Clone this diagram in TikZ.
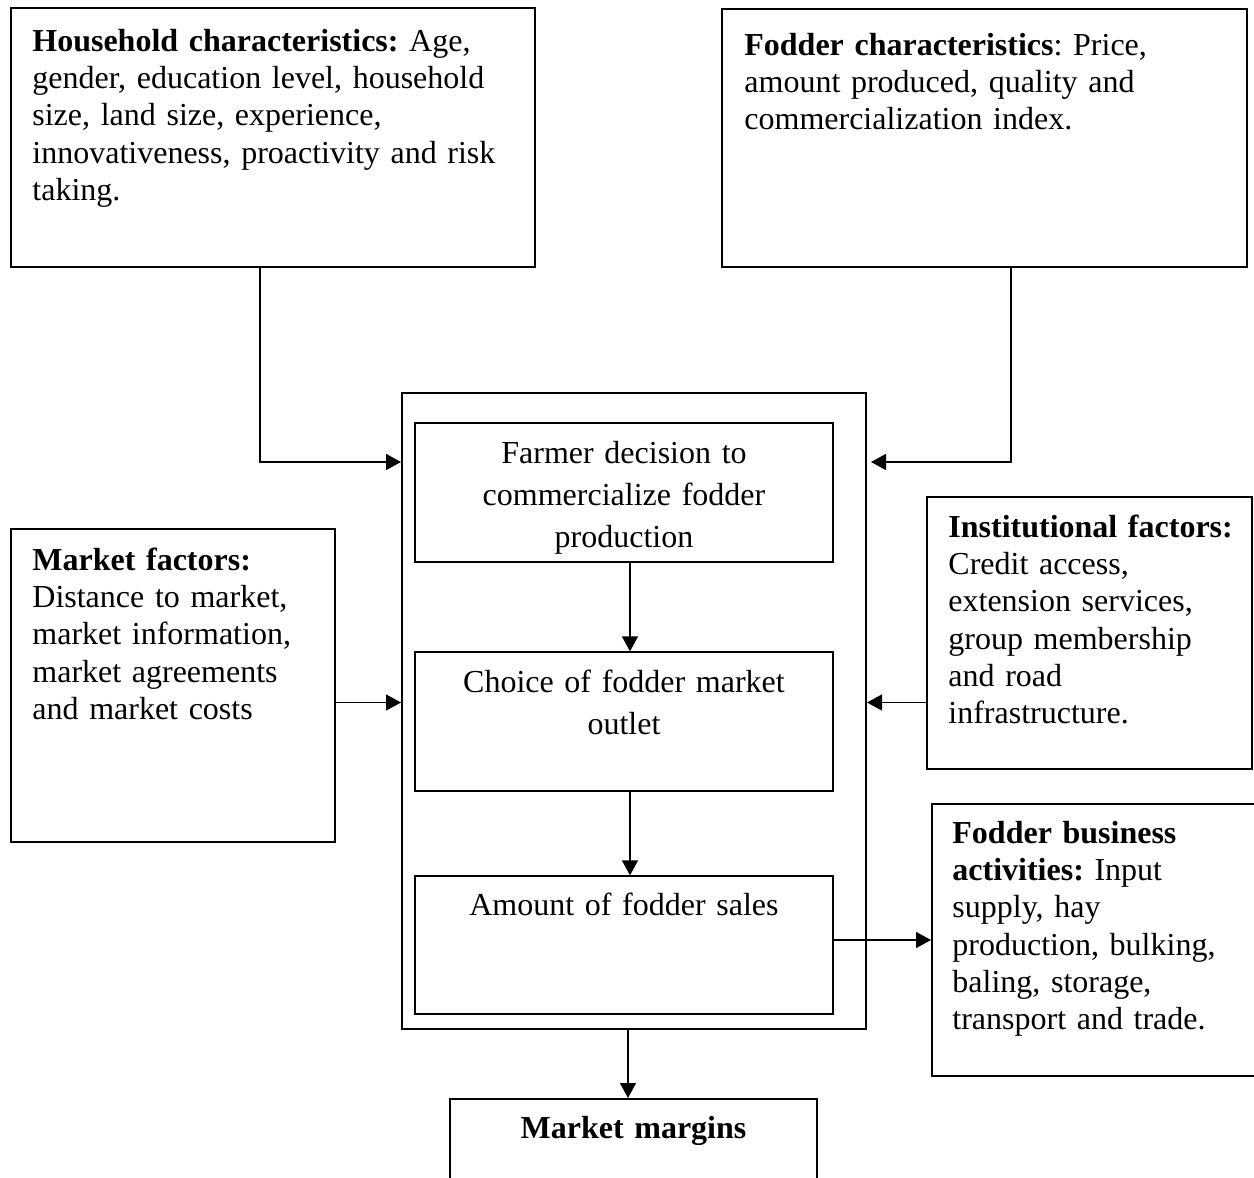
\documentclass[tikz,border=0pt]{standalone}
\usepackage{fontspec}
\setmainfont{Liberation Serif}
\usetikzlibrary{arrows.meta}
\frenchspacing
\begin{document}
\begin{tikzpicture}[x=0.5pt,y=-0.5pt,
  frame/.style={draw, line width=1pt, rectangle, inner sep=0pt},
  innerframe/.style={draw, line width=0.65pt, rectangle, inner sep=0pt},
  arr/.style={line width=0.75pt, -{Triangle[length=7.5pt,width=8pt]}},
  sidetxt/.style={inner sep=0pt, anchor=north west, text width=300pt, align=left,
    font=\fontsize{16}{18.6}\selectfont},
  midtxt/.style={inner sep=0pt, anchor=north, text width=209pt, align=center,
    font=\fontsize{16}{21}\selectfont}]
\useasboundingbox (0,0) rectangle (1254,1178);

% boxes
\node[frame, minimum width=262pt, minimum height=129.5pt] (hh) at (273,137.5) {};
\node[frame, minimum width=262.5pt, minimum height=129pt] (fc) at (984.5,138) {};
\node[frame, minimum width=232pt, minimum height=318pt] (outer) at (634,711) {};
\node[innerframe, minimum width=209pt, minimum height=69.5pt] (in1) at (624,492.5) {};
\node[innerframe, minimum width=209pt, minimum height=69.5pt] (in2) at (624,721.5) {};
\node[innerframe, minimum width=209pt, minimum height=69pt] (in3) at (624,945) {};
\node[frame, minimum width=162pt, minimum height=156.5pt] (mf) at (173,685.5) {};
\node[frame, minimum width=162.5pt, minimum height=136pt] (if) at (1089.5,633) {};
\node[frame, minimum width=164pt, minimum height=136pt] (fb) at (1096,940) {};
\node[frame, minimum width=183.5pt, minimum height=50.5pt] (mm) at (633.5,1149.5) {};

% texts
\node[sidetxt] (hht) at (32,25) {\strut\textbf{Household characteristics:} Age,\\
  gender, education level, household\\ size, land size, experience,\\
  innovativeness, proactivity and risk\\ taking.};
\node[sidetxt] (fct) at (744,29) {\strut\textbf{Fodder characteristics}: Price,\\
  amount produced, quality and\\ commercialization index.};
\node[sidetxt] (mft) at (32,544) {\strut\textbf{Market factors:}\\ Distance to market,\\
  market information,\\ market agreements\\ and market costs};
\node[sidetxt] (ift) at (948,511) {\strut\textbf{Institutional factors:}\\ Credit access,\\
  extension services,\\ group membership\\ and road\\ infrastructure.};
\node[sidetxt] (fbt) at (952,817) {\strut\textbf{Fodder business}\\ \textbf{activities:} Input\\
  supply, hay\\ production, bulking,\\ baling, storage,\\ transport and trade.};
\node[midtxt] (in1t) at (624,433.6) {\strut Farmer decision to\\ commercialize fodder\\ production};
\node[midtxt] (in2t) at (624,662.6) {\strut Choice of fodder market\\ outlet};
\node[midtxt] (in3t) at (624,885.6) {\strut Amount of fodder sales};
\node[midtxt, text width=183.5pt] (mmt) at (633.5,1108.6) {\strut\textbf{Market margins}};

% connectors
\coordinate (hhx) at (260,462);
\coordinate (fcx) at (1011,462);
\coordinate (ymid) at (0,702.5);
\coordinate (xa) at (630,0);
\coordinate (xb) at (628,0);
\coordinate (yc) at (0,940);
\draw[arr] (hh.south -| hhx) |- (outer.west |- hhx);
\draw[arr] (fc.south -| fcx) |- ([xshift=2pt]outer.east |- fcx);
\draw[arr] (mf.east |- ymid) -- (outer.west |- ymid);
\draw[arr] (if.west |- ymid) -- (outer.east |- ymid);
\draw[arr] (in1.south -| xa) -- (in2.north -| xa);
\draw[arr] (in2.south -| xa) -- (in3.north -| xa);
\draw[arr] (in3.east |- yc) -- (fb.west |- yc);
\draw[arr] (outer.south -| xb) -- (mm.north -| xb);
\end{tikzpicture}
\end{document}
